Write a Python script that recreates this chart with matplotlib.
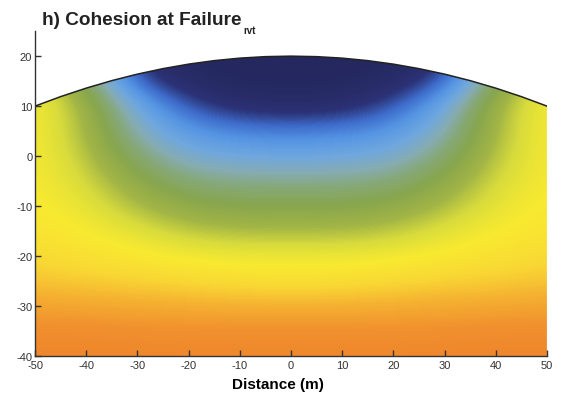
import numpy as np
import matplotlib.pyplot as plt
from matplotlib.colors import LinearSegmentedColormap
from matplotlib.patches import Polygon

plt.rcParams['font.family'] = ['Liberation Sans', 'DejaVu Sans']
plt.rcParams['axes.unicode_minus'] = False

# superficie del talud
x_sup = [-50, -45, -40, -35, -30, -25, -20, -15, -10, -5, 0, 5, 10, 15, 20, 25, 30, 35, 40, 45, 50]
y_sup = [10, 11.9, 13.6, 15.1, 16.4, 17.5, 18.4, 19.1, 19.6, 19.9, 20,
         19.9, 19.6, 19.1, 18.4, 17.5, 16.4, 15.1, 13.6, 11.9, 10]

# malla gruesa de valores normalizados (0 = azul oscuro, 1 = naranja)
x_malla = [-50, -40, -30, -20, -10, 0, 10, 20, 30, 40, 50]
y_malla = [20, 15, 10, 5, 0, -5, -10, -15, -20, -25, -30, -35, -40]
valores = [
    [0.60, 0.30, 0.04, 0.00, 0.00, 0.00, 0.00, 0.00, 0.04, 0.30, 0.60],
    [0.61, 0.42, 0.10, 0.02, 0.00, 0.00, 0.00, 0.02, 0.10, 0.42, 0.61],
    [0.62, 0.50, 0.25, 0.10, 0.04, 0.03, 0.04, 0.10, 0.25, 0.50, 0.62],
    [0.62, 0.51, 0.31, 0.20, 0.16, 0.15, 0.16, 0.20, 0.31, 0.51, 0.62],
    [0.62, 0.53, 0.38, 0.28, 0.26, 0.25, 0.26, 0.28, 0.38, 0.53, 0.62],
    [0.62, 0.56, 0.45, 0.37, 0.35, 0.35, 0.35, 0.37, 0.45, 0.56, 0.62],
    [0.63, 0.59, 0.51, 0.45, 0.43, 0.43, 0.43, 0.45, 0.51, 0.59, 0.63],
    [0.64, 0.62, 0.58, 0.53, 0.51, 0.51, 0.51, 0.53, 0.58, 0.62, 0.64],
    [0.67, 0.65, 0.63, 0.61, 0.60, 0.60, 0.60, 0.61, 0.63, 0.65, 0.67],
    [0.72, 0.70, 0.69, 0.67, 0.66, 0.65, 0.66, 0.67, 0.69, 0.70, 0.72],
    [0.80, 0.79, 0.78, 0.77, 0.76, 0.76, 0.76, 0.77, 0.78, 0.79, 0.80],
    [0.88, 0.88, 0.87, 0.87, 0.87, 0.87, 0.87, 0.87, 0.87, 0.88, 0.88],
    [0.95, 0.95, 0.94, 0.935, 0.93, 0.93, 0.93, 0.935, 0.94, 0.95, 0.95],
]

x_ticks = [-50, -40, -30, -20, -10, 0, 10, 20, 30, 40, 50]
y_ticks = [-40, -30, -20, -10, 0, 10, 20]

colores = [
    (0.00, '#25285f'),
    (0.07, '#2b3276'),
    (0.13, '#3e6ccb'),
    (0.19, '#5494e3'),
    (0.26, '#70a8de'),
    (0.32, '#86acb2'),
    (0.37, '#86a878'),
    (0.43, '#88a64e'),
    (0.50, '#a2b546'),
    (0.56, '#d8db3c'),
    (0.62, '#f8ea30'),
    (0.68, '#f9d834'),
    (0.76, '#f5b231'),
    (0.86, '#f1912e'),
    (1.00, '#ee7f2b'),
]
cmap = LinearSegmentedColormap.from_list('cohesion', colores)

fig = plt.figure(figsize=(5.65, 4.02), dpi=100)
ax = fig.add_axes([0.062, 0.112, 0.906, 0.808])

dx = (x_malla[1] - x_malla[0]) / 2
dy = (y_malla[0] - y_malla[1]) / 2
im = ax.imshow(np.array(valores), cmap=cmap, vmin=0, vmax=1, aspect='auto',
               interpolation='bicubic',
               extent=[x_malla[0] - dx, x_malla[-1] + dx, y_malla[-1] - dy, y_malla[0] + dy])

# recorte con la forma del talud
poli = list(zip(x_sup, y_sup)) + [(50, -40), (-50, -40)]
clip = Polygon(poli, closed=True, transform=ax.transData, facecolor='none', edgecolor='none')
ax.add_patch(clip)
im.set_clip_path(clip)

ax.plot(x_sup, y_sup, color='#222222', lw=1.1)

ax.set_xlim(-50, 50)
ax.set_ylim(-40, 25)
ax.set_xticks(x_ticks)
ax.set_yticks(y_ticks)
ax.tick_params(direction='in', length=4, width=1, labelsize=8, colors='#333333')
ax.tick_params(axis='x', pad=3)
ax.tick_params(axis='y', pad=2)
for lado in ['top', 'right']:
    ax.spines[lado].set_visible(False)
for lado in ['left', 'bottom']:
    ax.spines[lado].set_linewidth(1.0)
    ax.spines[lado].set_color('#333333')

ax.set_xlabel('Distance (m)', fontsize=11, fontweight='bold')
ax.xaxis.set_label_coords(0.475, -0.086)
ax.xaxis.label.set_va('center')

# titulo con subindice pequeño
t = fig.text(0.074, 0.950, 'h) Cohesion at Failure', fontsize=13.7,
             fontweight='bold', ha='left', va='center', color='#222222')
fig.canvas.draw()
bb = t.get_window_extent().transformed(fig.transFigure.inverted())
fig.text(bb.x1 + 0.003, 0.924, 'rvt', fontsize=7, fontweight='bold',
         ha='left', va='center', color='#222222')

plt.savefig('out.png', dpi=100)
plt.close()
